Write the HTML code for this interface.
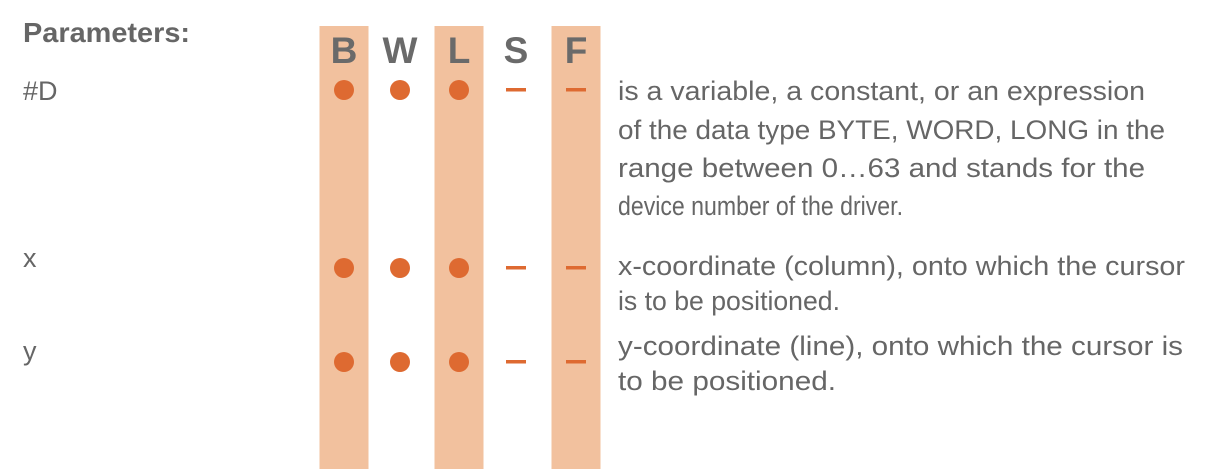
<!DOCTYPE html>
<html><head><meta charset="utf-8">
<style>
html,body{margin:0;padding:0;background:#fff;}
svg{display:block;font-family:"Liberation Sans",sans-serif;}
</style></head>
<body>
<svg width="1218" height="469" viewBox="0 0 1218 469">
  <g id="shades"></g>
  <text x="23" y="42" font-size="28" font-weight="bold" fill="#666" textLength="167" lengthAdjust="spacingAndGlyphs">Parameters:</text>
  <g id="headers" font-size="37" font-weight="bold" fill="#6a6a6a" text-anchor="middle"></g>
  <g id="marks"></g>
  <g id="labels" font-size="27" fill="#666"></g>
  <g id="desc" font-size="27" fill="#666"></g>
</svg>
<script>
const ns='http://www.w3.org/2000/svg';
const types=['B','W','L','S','F'];
const shaded=[true,false,true,false,true];
const colX=[344,400,459,516,576];
const paramNames=['#D','x','y'];
const paramY=[90,268,362];
const labelBase=[100,267,360];
// 1 = dot, 0 = dash
const support=[[1,1,1,0,0],[1,1,1,0,0],[1,1,1,0,0]];
const descLines=[
 ['is a variable, a constant, or an expression','of the data type BYTE, WORD, LONG in the','range between 0…63 and stands for the','device number of the driver.'],
 ['x-coordinate (column), onto which the cursor','is to be positioned.'],
 ['y-coordinate (line), onto which the cursor is','to be positioned.']
];
const descBase=[[100,139,177,215],[275,310],[355,390]];
const descW=[[527,547,527,285],[567,222],[565,218]];
function el(t,a){const e=document.createElementNS(ns,t);for(const k in a)e.setAttribute(k,a[k]);return e;}
const sh=document.getElementById('shades'),hd=document.getElementById('headers'),mk=document.getElementById('marks'),lb=document.getElementById('labels'),ds=document.getElementById('desc');
types.forEach((t,i)=>{
  if(shaded[i]){const r=el('rect',{x:colX[i]-24.5,y:26,width:49,height:443,fill:'#f2c19e'});
    
    
    sh.appendChild(r);}
  const tx=el('text',{x:colX[i],y:63});tx.textContent=t;
  
  
  hd.appendChild(tx);
});
paramNames.forEach((p,r)=>{
  const l=el('text',{x:23,y:labelBase[r]});l.textContent=p;
  
  
  lb.appendChild(l);
  support[r].forEach((s,i)=>{
    let m;
    if(s) m=el('circle',{cx:colX[i],cy:paramY[r],r:10,fill:'#de6a31'});
    else m=el('rect',{x:colX[i]-10,y:paramY[r]-2,width:20,height:3.5,fill:'#de6a31'});
    
    
    mk.appendChild(m);
  });
  descLines[r].forEach((line,j)=>{
    const t=el('text',{x:618,y:descBase[r][j],textLength:descW[r][j],lengthAdjust:'spacingAndGlyphs'});
    t.textContent=line;
    
    
    ds.appendChild(t);
  });
});
</script>
</body></html>
